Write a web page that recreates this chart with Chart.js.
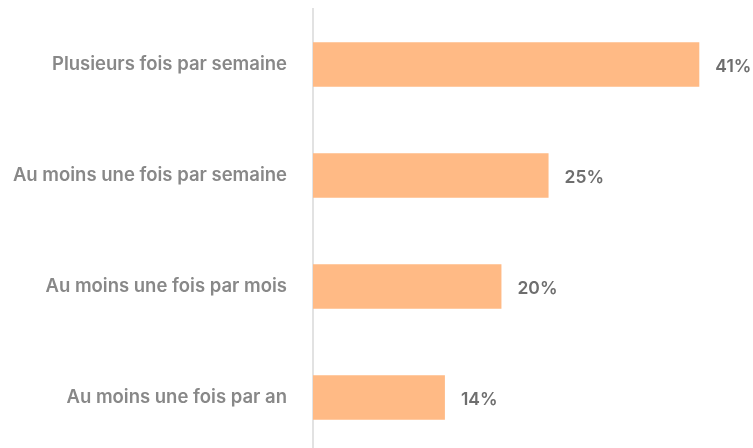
<!DOCTYPE html>
<html>
<head>
<meta charset="utf-8">
<script src="https://cdn.jsdelivr.net/npm/chart.js@4"></script>
<style>
  html, body { margin: 0; padding: 0; background: #fff; overflow: hidden; }
  canvas { display: block; }
</style>
</head>
<body>
<canvas id="bar" width="753" height="453"></canvas>
<script>
// data
var categories = ['Plusieurs fois par semaine', 'Au moins une fois par semaine', 'Au moins une fois par mois', 'Au moins une fois par an'];
var values = [41, 25, 20, 14];
var valueLabels = ['41%', '25%', '20%', '14%'];

// draw the % next to each bar
var valueLabelPlugin = {
    id: 'valueLabels',
    afterDatasetsDraw: function (chart) {
        var ctx = chart.ctx;
        var meta = chart.getDatasetMeta(0);
        ctx.save();
        ctx.font = '600 17.5px Inter';
        ctx.fillStyle = '#6e6e6e';
        ctx.textAlign = 'left';
        ctx.textBaseline = 'middle';
        meta.data.forEach(function (bar, i) {
            ctx.fillText(valueLabels[i], bar.x + 16, bar.y + 2);
        });
        ctx.restore();
    }
};

var ctx = document.getElementById('bar');
new Chart(ctx, {
    type: 'bar',
    data: {
        labels: categories,
        datasets: [{
            data: values,
            backgroundColor: '#FFBA85',
            borderWidth: 0,
            barPercentage: 0.4,
            categoryPercentage: 1
        }]
    },
    options: {
        indexAxis: 'y',
        responsive: false,
        animation: false,
        layout: { padding: { top: 9, right: 16, bottom: 0, left: 0 } },
        plugins: {
            legend: { display: false },
            tooltip: { enabled: false }
        },
        scales: {
            x: {
                display: false,
                min: 0,
                max: 45
            },
            y: {
                afterFit: function (scale) {
                    scale.width = 313;
                    // tick padding should not push the chart area in vertically
                    scale.paddingTop = 0;
                    scale.paddingBottom = 0;
                },
                grid: { display: false, drawTicks: false },
                border: { display: true, color: '#e2e2e2', width: 2 },
                ticks: {
                    padding: 26,
                    color: '#888888',
                    font: { family: 'Inter', size: 18.5, weight: '600' }
                }
            }
        }
    },
    plugins: [valueLabelPlugin]
});
</script>
</body>
</html>
